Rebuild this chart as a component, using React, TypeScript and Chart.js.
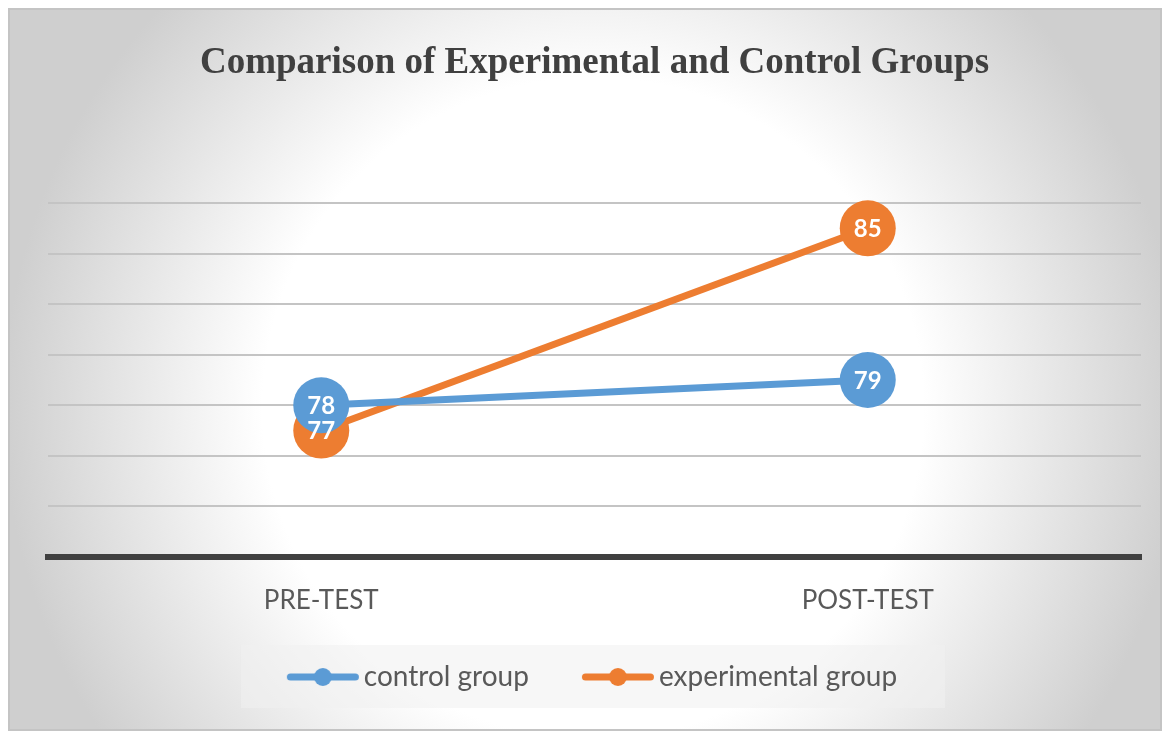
import React, { useEffect, useRef } from "react";
import { Chart, registerables } from "chart.js";
Chart.register(...registerables);

const categories = ["PRE-TEST", "POST-TEST"];
const controlGroup = [78, 79];
const experimentalGroup = [77, 85];
const seriesNames = ["control group", "experimental group"];
const seriesColors = ["#5B9BD5", "#ED7D31"];
const yMin = 72;
const yMax = 86;
const yStep = 2;
const chartTitle = "Comparison of Experimental and Control Groups";

function legendMarker(color: string) {
  const c = document.createElement("canvas");
  c.width = 124;
  c.height = 24;
  const ctx = c.getContext("2d")!;
  ctx.strokeStyle = color;
  ctx.lineWidth = 7;
  ctx.lineCap = "round";
  ctx.beginPath();
  ctx.moveTo(51.5, 12);
  ctx.lineTo(116.5, 12);
  ctx.stroke();
  ctx.fillStyle = color;
  ctx.beginPath();
  ctx.arc(84, 12, 9, 0, Math.PI * 2);
  ctx.fill();
  return c;
}

const backgroundPlugin = {
  id: "bgPlugin",
  beforeDraw(chart: any) {
    const { ctx, width, height } = chart;
    ctx.save();
    const g = ctx.createRadialGradient(585, 400, 0, 585, 400, 590);
    g.addColorStop(0, "#ffffff");
    g.addColorStop(0.56, "#ffffff");
    g.addColorStop(1, "#cfcfcf");
    ctx.fillStyle = g;
    ctx.fillRect(0, 0, width, height);
    ctx.strokeStyle = "#c4c4c4";
    ctx.lineWidth = 2;
    ctx.strokeRect(1, 1, width - 2, height - 2);
    const hb = chart.legend && chart.legend.legendHitBoxes;
    if (hb && hb.length) {
      const first = hb[0];
      const last = hb[hb.length - 1];
      const cy = first.top + 14;
      const left = first.left - 11;
      const right = last.left + last.width + 48;
      ctx.fillStyle = "rgba(240,240,240,0.55)";
      ctx.fillRect(left, cy - 32, right - left, 63);
    }
    ctx.restore();
  },
};

const dataLabelPlugin = {
  id: "dataLabels",
  afterDatasetsDraw(chart: any) {
    const { ctx } = chart;
    ctx.save();
    ctx.font = "bold 24px Lato";
    ctx.fillStyle = "#ffffff";
    ctx.textAlign = "center";
    ctx.textBaseline = "middle";
    chart.data.datasets.forEach((ds: any, di: number) => {
      const meta = chart.getDatasetMeta(di);
      meta.data.forEach((el: any, i: number) => {
        ctx.fillText(String(ds.data[i]), el.x, el.y + 1);
      });
    });
    ctx.restore();
  },
};

export default function App() {
  const ref = useRef<HTMLCanvasElement>(null);
  useEffect(() => {
    document.body.style.overflow = "hidden";
    if (!ref.current) return;
    const markers = seriesColors.map((c) => legendMarker(c));
    const series = [controlGroup, experimentalGroup];
    const chart = new Chart(ref.current, {
      type: "line",
      data: {
        labels: categories,
        datasets: series.map((d, i) => ({
          label: seriesNames[i],
          data: d,
          borderColor: seriesColors[i],
          backgroundColor: seriesColors[i],
          borderWidth: 7,
          pointRadius: 28,
          pointHoverRadius: 28,
          pointBorderWidth: 0,
          pointBackgroundColor: seriesColors[i],
          tension: 0,
          clip: false,
        })),
      },
      options: {
        animation: false,
        responsive: true,
        maintainAspectRatio: false,
        layout: {
          autoPadding: false,
          padding: { left: 0, right: 21, top: 0, bottom: 30 },
        },
        plugins: {
          title: {
            display: true,
            fullSize: false,
            text: chartTitle,
            color: "#404040",
            font: { family: "Liberation Serif", size: 37, weight: "bold" },
            padding: { top: 33, bottom: 117.6 },
          },
          legend: {
            position: "bottom",
            labels: {
              usePointStyle: true,
              pointStyleWidth: 98,
              padding: 18,
              color: "#595959",
              font: { family: "Lato", size: 28 },
              generateLabels: (ch: any) =>
                ch.data.datasets.map((ds: any, i: number) => ({
                  text: ds.label,
                  pointStyle: markers[i],
                  fillStyle: seriesColors[i],
                  strokeStyle: seriesColors[i],
                  lineWidth: 0,
                  hidden: false,
                  datasetIndex: i,
                  fontColor: "#595959",
                })),
            },
          },
          tooltip: { enabled: false },
        },
        scales: {
          x: {
            offset: true,
            grid: { display: false, drawTicks: false },
            border: { display: true, color: "#404040", width: 6 },
            ticks: {
              color: "#595959",
              font: { family: "Lato", size: 26 },
              padding: 28,
            },
            afterFit: (scale: any) => {
              scale.height = 88;
              scale.paddingLeft = 0;
              scale.paddingRight = 0;
            },
          },
          y: {
            min: yMin,
            max: yMax,
            ticks: { display: false, stepSize: yStep },
            grid: {
              drawTicks: false,
              lineWidth: 2,
              color: (c: any) =>
                c.tick && c.tick.value === yMin ? "rgba(0,0,0,0)" : "#c4c4c4",
            },
            border: { display: false },
            afterFit: (scale: any) => {
              scale.width = 40;
            },
          },
        },
      },
      plugins: [backgroundPlugin, dataLabelPlugin],
    } as any);
    return () => chart.destroy();
  }, []);
  return (
    <div style={{ width: 1154, height: 723, position: "relative" }}>
      <canvas ref={ref} />
    </div>
  );
}
